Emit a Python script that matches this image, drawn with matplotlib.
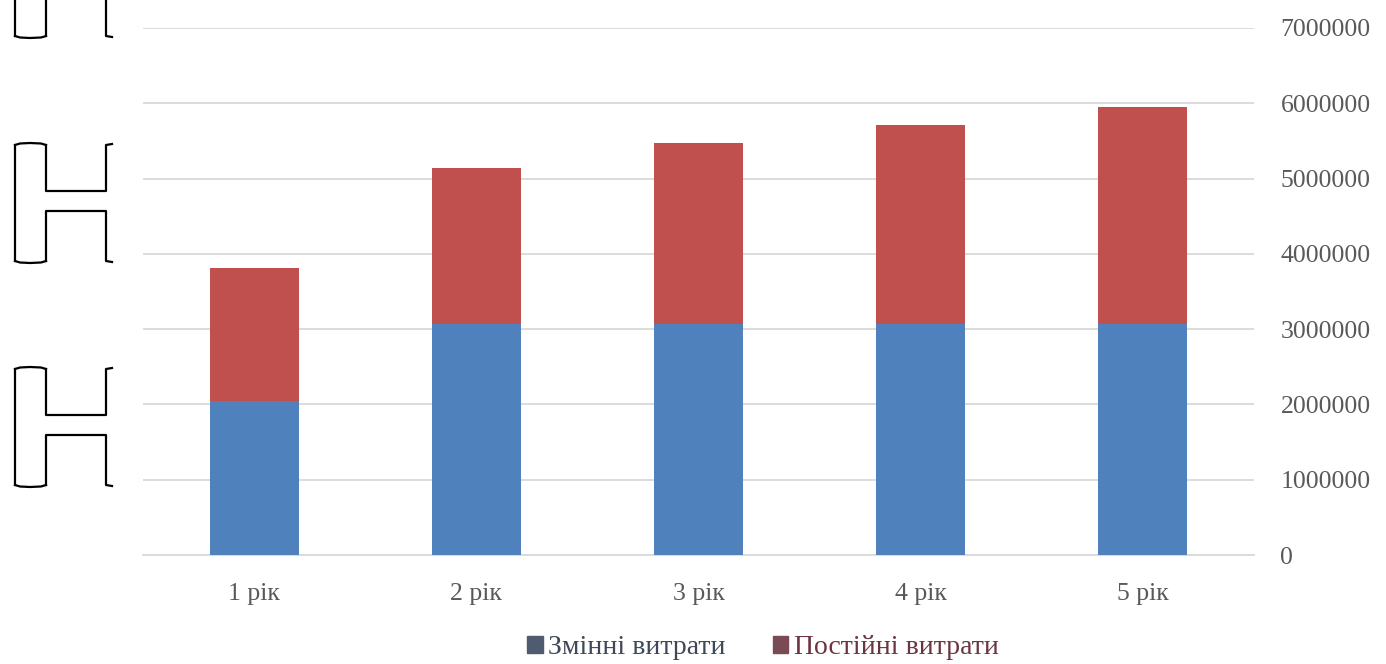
import matplotlib.pyplot as plt
from matplotlib.lines import Line2D
from matplotlib.patches import Patch

# --- Data ---
YEARS      = ["1 рік", "2 рік", "3 рік", "4 рік", "5 рік"]
VARIABLE   = [2050000, 3070000, 3070000, 3070000, 3070000]   # Змінні витрати
FIXED      = [1760000, 2070000, 2400000, 2640000, 2880000]   # Постійні витрати
Y_TICKS    = [0, 1000000, 2000000, 3000000, 4000000, 5000000, 6000000, 7000000]

C_VAR   = '#4F81BD'
C_FIX   = '#C0504D'
C_GRID  = '#D9D9D9'
C_TEXT  = '#595959'
W, H    = 1386, 664

plt.rcParams['font.family'] = ['Liberation Serif', 'DejaVu Serif']

fig = plt.figure(figsize=(W / 100, H / 100), dpi=100)
ax = fig.add_axes([143 / W, 1 - 555 / H, (1254 - 143) / W, (555 - 28) / H])

x = list(range(len(YEARS)))
ax.bar(x, VARIABLE, width=0.4, color=C_VAR, zorder=3)
ax.bar(x, FIXED, width=0.4, bottom=VARIABLE, color=C_FIX, zorder=3)

ax.set_xlim(-0.5, len(YEARS) - 0.5)
ax.set_ylim(0, 7000000)
ax.set_xticks(x)
ax.set_xticklabels(YEARS, fontsize=18.5, color=C_TEXT)
ax.set_yticks(Y_TICKS)
ax.set_yticklabels([str(v) for v in Y_TICKS], fontsize=18.5, color=C_TEXT)
ax.yaxis.tick_right()
ax.tick_params(axis='y', length=0, pad=19)
ax.tick_params(axis='x', length=0, pad=20)
ax.grid(axis='y', color=C_GRID, lw=1.3, zorder=0)
ax.set_axisbelow(True)
for s in ax.spines.values():
    s.set_visible(False)
ax.spines['bottom'].set_visible(True)
ax.spines['bottom'].set_color(C_GRID)
ax.spines['bottom'].set_linewidth(1.3)

# --- Legend ---
handles = [Patch(color='#4F5B6E'), Patch(color='#7A4A55')]
leg = fig.legend(handles, ["Змінні витрати", "Постійні витрати"],
                 loc='center', bbox_to_anchor=(763 / W, 1 - 648 / H), ncol=2,
                 frameon=False, fontsize=20, handlelength=0.55, handleheight=0.55,
                 handletextpad=0.2, columnspacing=1.7)
for t, c in zip(leg.get_texts(), ['#3F4858', '#6A3540']):
    t.set_color(c)

# --- Bracket outlines at the left edge ---
def px_line(xs, ys):
    fig.add_artist(Line2D([v / W for v in xs], [1 - v / H for v in ys],
                          color='black', lw=1.6, transform=fig.transFigure))

def bracket(top, mid_hi, mid_lo, bottom, cut_top=False):
    # outer left post
    px_line([15, 15], [top, bottom])
    px_line([15, 20, 30, 41, 46], [bottom, bottom + 1.5, bottom + 2, bottom + 1.5, bottom])
    if not cut_top:
        px_line([15, 20, 30, 41, 46], [top, top - 1.5, top - 2, top - 1.5, top])
    if mid_hi is None:
        px_line([46, 46], [top, bottom])
        px_line([106, 106, 112], [top, bottom, bottom + 1])
        return
    px_line([46, 46, 106, 106, 112], [top, mid_hi, mid_hi, top, top - 1])
    px_line([46, 46, 106, 106, 112], [bottom, mid_lo, mid_lo, bottom, bottom + 1])

bracket(-5, None, None, 36, cut_top=True)
bracket(145, 191, 211, 261)
bracket(369, 415, 435, 485)

fig.savefig('out.png', dpi=100, facecolor='white')
